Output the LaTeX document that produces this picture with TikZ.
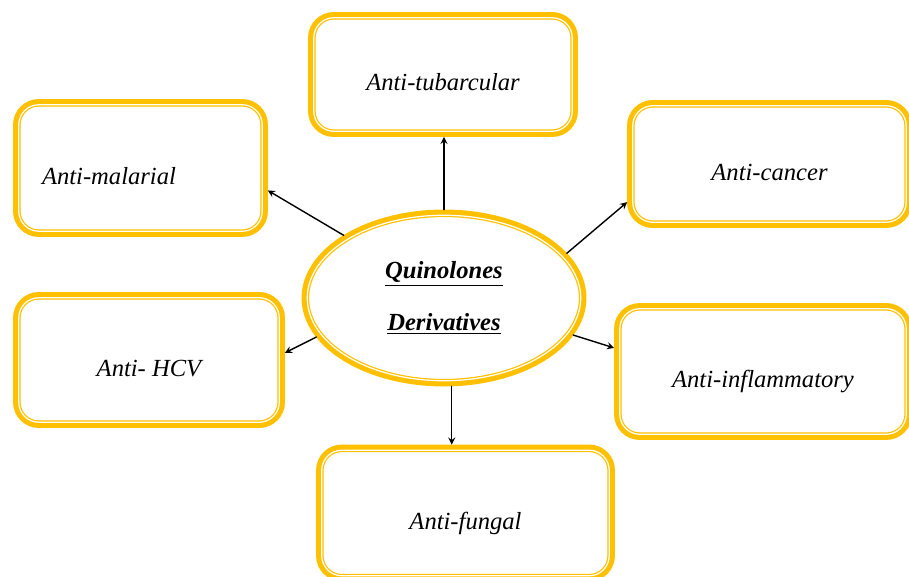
\documentclass[tikz,border=0pt]{standalone}
\usepackage{fontspec}
\setmainfont{Liberation Serif}[ItalicFont={Liberation Serif Italic}, BoldItalicFont={Liberation Serif Bold Italic}]
\usetikzlibrary{shapes.geometric}
\definecolor{gold}{HTML}{FFC000}
\begin{document}
\begin{tikzpicture}[x=0.02cm, y=-0.02cm, font=\fontsize{14}{17}\selectfont\itshape, line join=round, line cap=round, >=stealth,
	rim/.style={preaction={draw=gold, line width=6.5pt}, fill=white, draw=gold, double=white, line width=0.7pt, double distance=0.7pt, outer sep=3.2pt},
	box/.style={rim, rounded corners=0.4cm, text height=0.7cm, text depth=0.04cm},
	hub/.style={rim, ellipse, inner sep=0pt, minimum width=5.47cm, minimum height=3.31cm, align=center, font=\fontsize{14}{17}\selectfont\bfseries\itshape},
	link/.style={->, line width=0.8pt}]
	\useasboundingbox (0,0) rectangle (909,577);
	\clip (0,0) rectangle (909,577);
	\node[hub] (ell) at (444,298) {\underline{Quinolones}\\[0.44cm]\underline{Derivatives}};
	\node[box, minimum width=5.17cm, minimum height=2.27cm] (tub) at (443,74.5) {Anti-tubarcular};
	\node[box, minimum width=4.87cm, minimum height=2.53cm, text width=3.94cm, align=left] (mal) at (140.5,168) {Anti-malarial};
	\node[box, minimum width=5.47cm, minimum height=2.33cm] (can) at (769.5,164) {Anti-cancer};
	\node[box, minimum width=5.21cm, minimum height=2.49cm] (hcv) at (149,360) {Anti- HCV};
	\node[box, minimum width=5.73cm, minimum height=2.51cm] (inf) at (763,371.5) {Anti-inflammatory};
	\node[box, minimum width=5.75cm, minimum height=2.51cm] (fun) at (465.5,513) {Anti-fungal};
	\draw[link] (ell.north) -- (ell.north |- tub.south);
	\draw[link] (ell.148) -- (mal.-10);
	\draw[link] (ell.20) -- (can.195);
	\draw[link] (ell.197) -- (hcv.3);
	\draw[link] (ell.-16) -- (inf.171);
	\draw[link] (ell.-85) -- (ell.-85 |- fun.north);
\end{tikzpicture}
\end{document}
